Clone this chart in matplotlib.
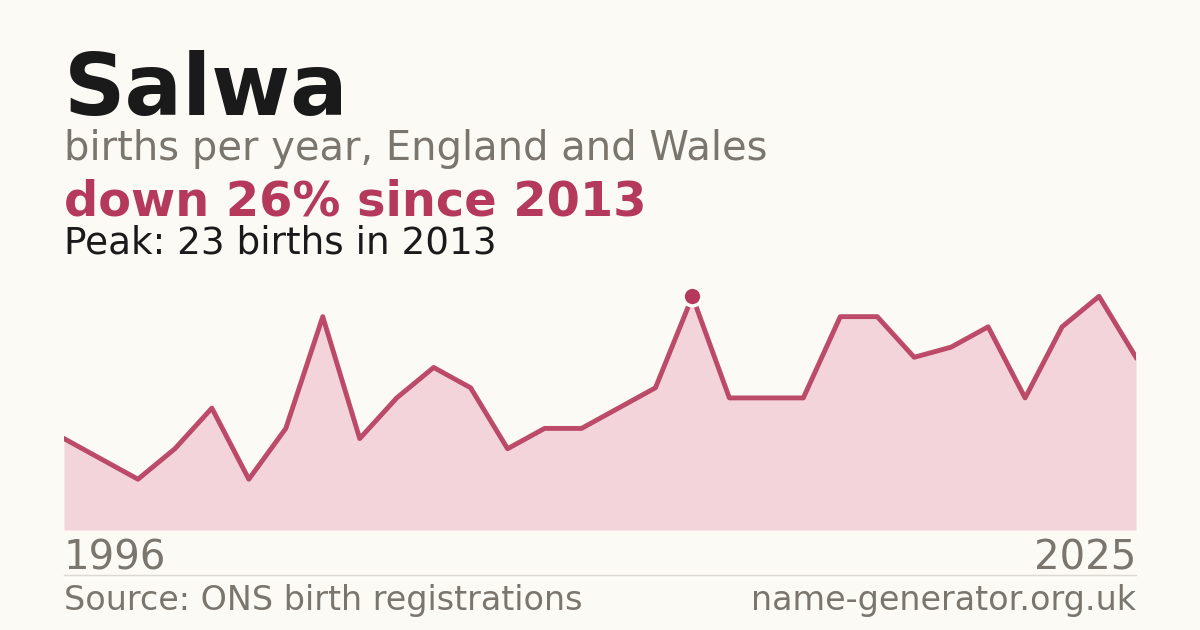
import numpy as np
import matplotlib
matplotlib.use('Agg')
import matplotlib.pyplot as plt

plt.rcParams['font.family'] = ['DejaVu Sans']

years = list(range(1996, 2026))
births = [9, 7, 5, 8, 12, 5, 10, 21, 9, 13, 16, 14, 8, 10, 10, 12, 14, 23,
          13, 13, 13, 21, 21, 17, 18, 20, 13, 20, 23, 17]

name = 'Salwa'
peak_year = 2013
peak_val = 23

BG = '#fbfaf5'
RED = '#b5395a'
GREY = '#7a756d'
DARK = '#1a1a1a'

W, H = 1200, 630
fig = plt.figure(figsize=(12, 6.3), dpi=100, facecolor=BG)

def fy(y):
    return 1 - y / H

ax = fig.add_axes([64 / W, fy(530), (1136 - 64) / W, (530 - 276) / H])
ax.set_facecolor(BG)
ax.fill_between(years, births, 0, color='#f2d4da', linewidth=0)
ax.plot(years, births, color=RED, linewidth=3.5, alpha=0.9)
ax.plot([peak_year], [peak_val], 'o', color=RED, markersize=13.5,
        markeredgecolor=BG, markeredgewidth=2.5, zorder=5)
ax.set_xlim(years[0], years[-1])
ax.set_ylim(0, 25)
ax.axis('off')

fig.text(64 / W, fy(115), name, fontsize=61.5, fontweight='bold', color=DARK)
fig.text(64 / W, fy(160), 'births per year, England and Wales', fontsize=28.8, color=GREY)
fig.text(64 / W, fy(215), 'down 26% since 2013', fontsize=34.5, fontweight='bold', color=RED)
fig.text(64 / W, fy(254), 'Peak: 23 births in 2013', fontsize=26.9, color=DARK)

fig.text(64 / W, fy(569), '1996', fontsize=29, color=GREY)
fig.text(1136 / W, fy(569), '2025', fontsize=29, color=GREY, ha='right')
fig.add_artist(plt.Line2D([64 / W, 1136 / W], [fy(575), fy(575)], color='#dcd9d2', linewidth=1))
fig.text(64 / W, fy(610), 'Source: ONS birth registrations', fontsize=24, color=GREY)
fig.text(1136 / W, fy(610), 'name-generator.org.uk', fontsize=24, color=GREY, ha='right')

fig.savefig('out.png', dpi=100, facecolor=BG)
